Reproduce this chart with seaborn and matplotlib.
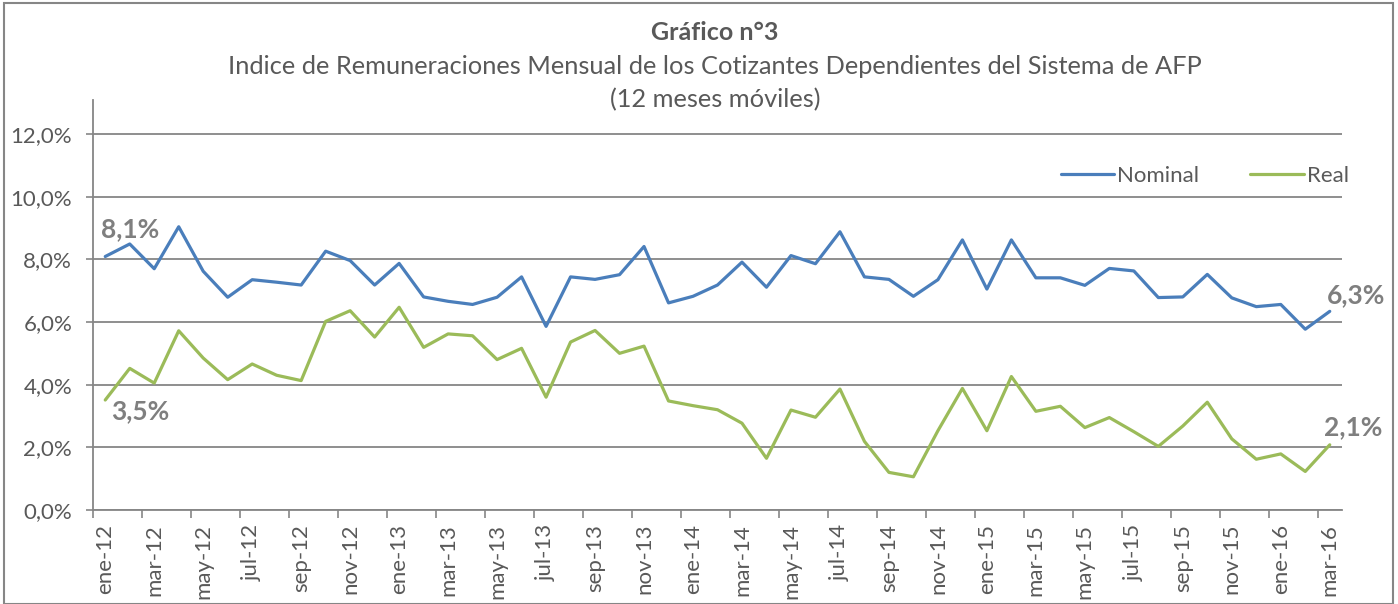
import numpy as np
import pandas as pd
import matplotlib
matplotlib.use("Agg")
import matplotlib.pyplot as plt
import seaborn as sns
from matplotlib.patches import Rectangle
from matplotlib.ticker import FixedLocator

# ------ DATA ------ #

meses = ["ene", "feb", "mar", "abr", "may", "jun", "jul", "ago", "sep", "oct", "nov", "dic"]
periodos = [f"{m}-{a}" for a in ["12", "13", "14", "15"] for m in meses] + ["ene-16", "feb-16", "mar-16"]

nominal = [8.09, 8.49, 7.70, 9.04, 7.62, 6.79, 7.35, 7.27, 7.18, 8.26, 7.96, 7.18,
           7.87, 6.80, 6.66, 6.56, 6.79, 7.44, 5.86, 7.44, 7.36, 7.51, 8.41, 6.61,
           6.82, 7.18, 7.91, 7.11, 8.12, 7.86, 8.88, 7.44, 7.36, 6.82, 7.35, 8.62,
           7.05, 8.62, 7.41, 7.41, 7.17, 7.71, 7.63, 6.78, 6.80, 7.52, 6.77, 6.49,
           6.56, 5.77, 6.34]

real = [3.51, 4.52, 4.05, 5.72, 4.85, 4.16, 4.66, 4.30, 4.13, 6.02, 6.36, 5.52,
        6.47, 5.19, 5.62, 5.56, 4.80, 5.16, 3.60, 5.36, 5.73, 5.00, 5.23, 3.48,
        3.33, 3.20, 2.77, 1.65, 3.19, 2.96, 3.86, 2.19, 1.20, 1.06, 2.53, 3.88,
        2.53, 4.26, 3.15, 3.31, 2.63, 2.95, 2.50, 2.03, 2.68, 3.44, 2.27, 1.62,
        1.79, 1.23, 2.08]

y_ticks = [0, 2, 4, 6, 8, 10, 12]

idx = np.arange(len(periodos))
df = pd.DataFrame({
    "idx": np.concatenate([idx, idx]),
    "valor": nominal + real,
    "serie": ["Nominal"] * len(idx) + ["Real"] * len(idx),
})

# ------ STYLE ------ #

sns.set_theme(style="white")
plt.rcParams["font.family"] = ["Lato", "DejaVu Sans"]
GRIS_TXT = "#595959"
GRIS_LIN = "#868686"
colores = {"Nominal": "#4A7EBB", "Real": "#9BBB59"}

fig = plt.figure(figsize=(13.98, 6.04), dpi=100)
ax = fig.add_axes([93 / 1398, 1 - 510 / 604, (1342 - 93) / 1398, (510 - 100) / 604])

sns.lineplot(data=df, x="idx", y="valor", hue="serie", palette=colores,
             linewidth=2.3, ax=ax, legend=False)

# ------ AXES ------ #

ax.set_xlim(-0.5, len(periodos) - 0.5)
ax.set_ylim(0, 12 * 410 / 376)
ax.set_xlabel("")
ax.set_ylabel("")

ax.set_yticks(y_ticks)
ax.set_yticklabels([f"{v:.1f}%".replace(".", ",") for v in y_ticks])
ax.yaxis.grid(True, color=GRIS_LIN, linewidth=1.3)
ax.set_axisbelow(True)

ax.set_xticks(idx[::2])
ax.set_xticklabels(periodos[::2], rotation=90)
ax.xaxis.set_minor_locator(FixedLocator(np.arange(-0.5, len(periodos) - 1, 2)))
ax.tick_params(axis="x", which="major", length=0, pad=10, labelsize=16, colors=GRIS_TXT)
ax.tick_params(axis="x", which="minor", length=6, width=1.2, color=GRIS_LIN, bottom=True)
ax.tick_params(axis="y", which="major", length=5, width=1.2, color=GRIS_LIN, left=True,
               labelsize=16, labelcolor=GRIS_TXT, pad=10)

for s in ["top", "right"]:
    ax.spines[s].set_visible(False)
for s in ["left", "bottom"]:
    ax.spines[s].set_color(GRIS_LIN)
    ax.spines[s].set_linewidth(1.3)

# ------ LABELS ------ #

etiquetas = [(0, nominal[0], (18, 20)), (0, real[0], (25, -8)),
             (len(idx) - 1, nominal[-1], (19, 12)), (len(idx) - 1, real[-1], (17, 13))]
for xi, yi, off in etiquetas:
    ax.annotate(f"{yi:.1f}%".replace(".", ","), (xi, yi), xytext=off,
                textcoords="offset points", ha="center", va="center",
                fontsize=19, fontweight="bold", color="#7F7F7F")

# ------ LEGEND ------ #

handles = [plt.Line2D([], [], color=colores[k], linewidth=2.3) for k in colores]
fig.legend(handles, list(colores), loc="center right", ncol=2,
           bbox_to_anchor=(1349 / 1398, 1 - 176 / 604), frameon=False,
           handlelength=2.4, columnspacing=2.3, handletextpad=0.15,
           fontsize=16, labelcolor=GRIS_TXT, borderaxespad=0, borderpad=0)

# ------ TITLE ------ #

xc = 715 / 1398
fig.text(xc, 1 - 32 / 604, "Gráfico n°3", ha="center", va="center",
         fontsize=18, fontweight="bold", color=GRIS_TXT)
fig.text(xc, 1 - 67 / 604,
         "Indice de Remuneraciones Mensual de los Cotizantes Dependientes del Sistema de AFP",
         ha="center", va="center", fontsize=18.3, color=GRIS_TXT)
fig.text(xc, 1 - 100 / 604, "(12 meses móviles)", ha="center", va="center",
         fontsize=18.3, color=GRIS_TXT)

fig.add_artist(Rectangle((4 / 1398, 0), 1 - 9 / 1398, 1 - 3 / 604, transform=fig.transFigure,
                         fill=False, edgecolor=GRIS_LIN, linewidth=1.5))

fig.savefig("out.png", dpi=100)
